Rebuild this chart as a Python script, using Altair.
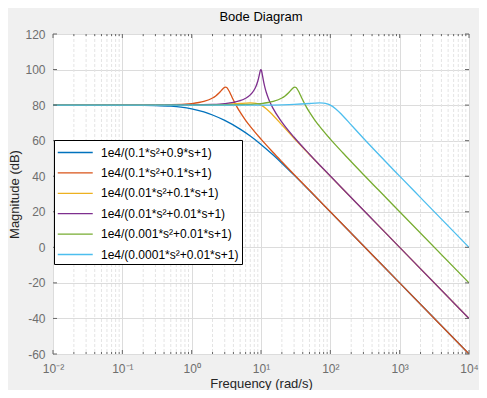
import altair as alt
import pandas as pd

labels = [
    "1e4/(0.1*s²+0.9*s+1)",
    "1e4/(0.1*s²+0.1*s+1)",
    "1e4/(0.01*s²+0.1*s+1)",
    "1e4/(0.01*s²+0.01*s+1)",
    "1e4/(0.001*s²+0.01*s+1)",
    "1e4/(0.0001*s²+0.01*s+1)",
]
colors = ["#0072BD", "#D95319", "#EDB120", "#7E2F8E", "#77AC30", "#4DBEEE"]

w1 = [0.01, 0.1, 0.2, 0.3, 0.5, 0.7, 1, 1.5, 2, 3, 5, 7, 10, 15, 20, 30, 50, 100, 300, 1000, 3000, 10000]
m1 = [80.0, 79.97, 79.9, 79.77, 79.38, 78.86, 77.9, 76.16, 74.44, 71.37, 66.48, 62.6, 57.9, 51.9, 47.34, 40.63, 31.94, 19.97, 0.91, -20.0, -39.08, -60.0]

w2 = [0.01, 0.1, 0.5, 1, 1.5, 2, 2.2, 2.5, 2.8, 2.9, 3.0, 3.082, 3.2, 3.3, 3.5, 3.7, 4, 4.5, 5, 6, 7, 10, 15, 20, 30, 50, 100, 1000, 10000]
m2 = [80.0, 80.01, 80.21, 80.86, 82.05, 83.98, 85.02, 86.92, 89.03, 89.61, 90.0, 90.11, 89.87, 89.32, 87.62, 85.64, 82.84, 79.02, 76.02, 71.48, 68.04, 60.86, 53.33, 48.17, 41.0, 32.07, 20.0, -20.0, -60.0]

w3 = [0.01, 0.1, 1, 2, 3, 5, 6, 7, 8, 9, 10, 12, 15, 20, 30, 50, 100, 200, 1000, 10000]
m3 = [80.0, 80.0, 80.04, 80.17, 80.37, 80.9, 81.14, 81.25, 81.14, 80.73, 80.0, 77.87, 74.19, 68.86, 61.37, 52.21, 40.04, 27.97, 0.0, -40.0]

w4 = [0.01, 0.1, 1, 2, 3, 4, 5, 6, 7, 8, 8.5, 9, 9.5, 9.7, 9.8, 9.95, 10.1, 10.2, 10.35, 10.5, 11, 11.5, 12, 13, 15, 20, 30, 50, 100, 1000, 10000]
m4 = [80.0, 80.0, 80.09, 80.35, 80.81, 81.5, 82.48, 83.84, 85.77, 88.66, 90.75, 93.55, 97.32, 98.89, 99.52, 100.0, 99.74, 99.19, 98.02, 96.67, 92.5, 89.31, 86.82, 83.07, 78.0, 70.44, 61.93, 52.39, 40.09, 0.0, -40.0]

w5 = [0.01, 0.1, 1, 5, 10, 15, 20, 22, 25, 28, 29, 30, 30.82, 32, 33, 35, 37, 40, 45, 50, 60, 70, 100, 150, 200, 300, 500, 1000, 10000]
m5 = [80.0, 80.0, 80.01, 80.21, 80.86, 82.05, 83.98, 85.02, 86.92, 89.03, 89.61, 90.0, 90.11, 89.87, 89.32, 87.62, 85.64, 82.84, 79.02, 76.02, 71.48, 68.04, 60.86, 53.33, 48.17, 41.0, 32.07, 20.0, -20.0]

w6 = [0.01, 1, 10, 20, 30, 50, 60, 70, 80, 90, 100, 120, 150, 200, 300, 500, 1000, 2000, 10000]
m6 = [80.0, 80.0, 80.04, 80.17, 80.37, 80.9, 81.14, 81.25, 81.14, 80.73, 80.0, 77.87, 74.19, 68.86, 61.37, 52.21, 40.04, 27.97, 0.0]

decades = [0.01, 0.1, 1, 10, 100, 1000, 10000]
minor_ticks = [k * d for d in [0.01, 0.1, 1, 10, 100, 1000] for k in range(2, 10)]
y_ticks = [-60, -40, -20, 0, 20, 40, 60, 80, 100, 120]

rows = []
for lab, ws, ms in zip(labels, [w1, w2, w3, w4, w5, w6], [m1, m2, m3, m4, m5, m6]):
    for w, m in zip(ws, ms):
        rows.append({"series": lab, "freq": w, "mag": m})
df = pd.DataFrame(rows)
minor_df = pd.DataFrame({"freq": minor_ticks})
major_df = pd.DataFrame({"freq": decades})
ytick_df = pd.DataFrame({"mag": y_ticks})

W, H = 416, 320
FONT = "Liberation Sans"
xscale = alt.Scale(type="log", domain=[0.01, 10000], nice=False)
yscale = alt.Scale(domain=[-60, 120], nice=False, zero=False)

xaxis = alt.Axis(
    values=decades, grid=True, gridColor="#dcdcdc", gridWidth=1, ticks=False, domain=False,
    labelExpr="'10' + ['⁻²','⁻¹','⁰','¹','²','³','⁴'][round(log(datum.value)/LN10)+2]",
    labelFont=FONT, labelFontSize=12, labelColor="#6e6e6e", labelPadding=9,
    labelFlush=False, labelOverlap=False,
    title="Frequency  (rad/s)", titleFont=FONT, titleFontSize=13, titleColor="#262626",
    titleFontWeight="normal", titleX=W / 2, titleY=29, titleBaseline="middle", titleAlign="center",
)
yaxis = alt.Axis(
    values=y_ticks, grid=True, gridColor="#dcdcdc", gridWidth=1, ticks=False, domain=False,
    labelExpr="'' + datum.value",
    labelFont=FONT, labelFontSize=12, labelColor="#6e6e6e", labelPadding=8,
    labelFlush=False, labelOverlap=False,
    title="Magnitude (dB)", titleFont=FONT, titleFontSize=13, titleColor="#262626",
    titleFontWeight="normal", titleX=-39, titleY=H / 2, titleAngle=270,
    titleBaseline="middle", titleAlign="center",
)

X = alt.X("freq:Q", scale=xscale, axis=xaxis)
Y = alt.Y("mag:Q", scale=yscale, axis=yaxis)

minor_grid = alt.Chart(minor_df).mark_rule(color="#e4e4e4", strokeDash=[3, 2], strokeWidth=1).encode(x=X)

lines = alt.Chart(df).mark_line(strokeWidth=1.3, interpolate="monotone", clip=True).encode(
    x=X,
    y=Y,
    color=alt.Color(
        "series:N",
        scale=alt.Scale(domain=labels, range=colors),
        sort=labels,
        title=None,
        legend=alt.Legend(
            orient="none", legendX=1, legendY=106, direction="vertical",
            symbolType="M-1,0H3", symbolSize=306, symbolStrokeWidth=1.3,
            labelFont=FONT, labelFontSize=12, labelColor="black", labelLimit=400,
            labelOffset=25, padding=3, rowPadding=4.4,
            strokeColor="black", fillColor="white", cornerRadius=0,
        ),
    ),
)

tick_color = "#666666"
bx_major = alt.Chart(major_df).mark_rule(color=tick_color).encode(x=X, y=alt.value(H), y2=alt.value(H - 4))
tx_major = alt.Chart(major_df).mark_rule(color=tick_color).encode(x=X, y=alt.value(0), y2=alt.value(4))
bx_minor = alt.Chart(minor_df).mark_rule(color=tick_color).encode(x=X, y=alt.value(H), y2=alt.value(H - 2))
tx_minor = alt.Chart(minor_df).mark_rule(color=tick_color).encode(x=X, y=alt.value(0), y2=alt.value(2))
ly = alt.Chart(ytick_df).mark_rule(color=tick_color).encode(y=Y, x=alt.value(0), x2=alt.value(4))
ry = alt.Chart(ytick_df).mark_rule(color=tick_color).encode(y=Y, x=alt.value(W), x2=alt.value(W - 4))

chart = alt.layer(minor_grid, lines, bx_major, tx_major, bx_minor, tx_minor, ly, ry).properties(
    width=W, height=H,
    autosize=alt.AutoSizeParams(type="none"),
    padding={"left": 45, "top": 26, "right": 10, "bottom": 36},
    title=alt.Title("Bode Diagram", font=FONT, fontSize=13, fontWeight="normal", color="black",
                    anchor="middle", frame="group", offset=4),
    background="#f0f0f0",
).configure_view(
    fill="white", stroke="#5f5f5f", strokeWidth=1,
)

chart.save("out.html", embed_options={"renderer": "svg", "actions": False})
